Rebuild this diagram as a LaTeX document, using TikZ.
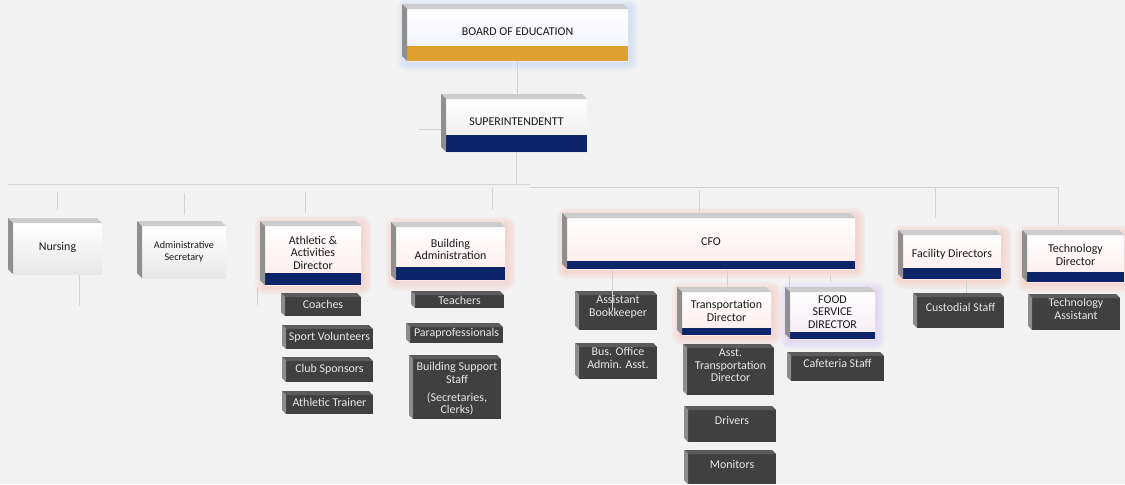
\documentclass[tikz,border=0pt]{standalone}
\usepackage{fontspec}
\setmainfont{Carlito}
\usetikzlibrary{backgrounds}

\newlength\px
\setlength\px{0.02cm}

\definecolor{pagebg}{HTML}{F2F2F2}
\definecolor{linegray}{HTML}{D2D2D2}
\definecolor{navyband}{HTML}{0E2468}
\definecolor{orangeband}{HTML}{E0A030}
\definecolor{topwhite}{HTML}{CCCCCC}
\definecolor{sidewhite}{HTML}{8F8F8F}
\definecolor{boxdark}{HTML}{404040}
\definecolor{topdark}{HTML}{5C5C5C}
\definecolor{sidedark}{HTML}{8C8C8C}
\definecolor{darktext}{HTML}{E8E8E8}
\definecolor{glowred}{HTML}{F4C2B8}
\definecolor{glowblue}{HTML}{C2D4F6}
\definecolor{glowviolet}{HTML}{D8C4F4}

% top and left faces of a raised box
\newcommand\sides[4]{%
  \fill[#3] (#1.north west) -- ++(-#2,#2) -- ([shift={(-#2,#2)}]#1.north east) -- (#1.north east) -- cycle;
  \fill[#4] (#1.north west) -- ++(-#2,#2) -- ([shift={(-#2,#2)}]#1.south west) -- (#1.south west) -- cycle;
}
% soft glow behind a box
\newcommand\glow[2]{%
  \begin{pgfonlayer}{background}
    \foreach \g in {2,4,6,8,10}
      \fill[#2, opacity=0.15, rounded corners=\g\px]
        ([shift={(-\g\px,\g\px)}]#1.north west) rectangle ([shift={(\g\px,-\g\px)}]#1.south east);
  \end{pgfonlayer}}

\tikzset{
  orgbox/.style={anchor=north west, inner sep=0.5\px, outer sep=0pt, align=center,
    text=black!90, font=\fontsize{6.8}{7.1}\selectfont},
  facebox/.style={orgbox, top color=white, bottom color=#1},
  facebox/.default=black!9,
  band/.style 2 args={path picture={\fill[#1] ([yshift=#2]path picture bounding box.south west)
    rectangle (path picture bounding box.south east);}},
  darkfacebox/.style={orgbox, fill=boxdark, text=darktext},
  lifttext/.style={execute at end node={\rule[-#1]{0pt}{#1}}},
  link/.style={draw=linegray, line width=0.5pt},
}

\begin{document}
\begin{tikzpicture}[x=0.02cm, y=0.02cm]
        \useasboundingbox (0,0) rectangle (1125,-484);
        \begin{pgfonlayer}{background}
          \fill[pagebg] (0,0) rectangle (1125,-484);
        \end{pgfonlayer}

        % top of the chart
        \node[facebox=blue!6, band={orangeband}{15\px}, lifttext=6\px, minimum width=221\px, minimum height=52\px] (boe) at (407,-9) {BOARD OF EDUCATION};
        \node[facebox, band={navyband}{17\px}, lifttext=7\px, minimum width=141\px, minimum height=53\px] (sup) at (446,-99) {SUPERINTENDENTT};

        % second row
        \node[facebox, lifttext=5\px, minimum width=89\px, minimum height=51\px] (nurs) at (13,-223) {Nursing};
        \node[facebox, font=\fontsize{5.8}{6.8}\selectfont, minimum width=84\px, minimum height=52\px] (adms) at (142,-226) {Administrative\\Secretary};
        \node[facebox=red!8, band={navyband}{12\px}, lifttext=6\px, minimum width=96\px, minimum height=59\px] (athl) at (265,-226) {Athletic \&\\Activities\\Director};
        \node[facebox=red!8, band={navyband}{13\px}, lifttext=8\px, minimum width=109\px, minimum height=53\px] (bldg) at (396,-227) {Building\\Administration};
        \node[facebox=red!8, band={navyband}{8\px}, lifttext=3\px, minimum width=288\px, minimum height=51\px] (cfo) at (567,-218) {CFO};
        \node[facebox=red!8, band={navyband}{11\px}, lifttext=7\px, minimum width=98\px, minimum height=44\px] (facd) at (903,-235) {Facility Directors};
        \node[facebox=red!8, band={navyband}{10\px}, lifttext=7\px, minimum width=97\px, minimum height=47\px] (tech) at (1027,-235) {Technology\\Director};

        % under the CFO
        \node[facebox=red!8, band={navyband}{7\px}, lifttext=5\px, minimum width=89\px, minimum height=43\px] (trdir) at (682,-292) {Transportation\\Director};
        \node[facebox=violet!8, band={navyband}{7\px}, lifttext=7\px, minimum width=85\px, minimum height=47\px] (food) at (790,-292) {FOOD\\SERVICE\\DIRECTOR};

        % staff boxes
        \node[darkfacebox, lifttext=4\px, minimum width=76\px, minimum height=19\px] (coach) at (285,-297) {Coaches};
        \node[darkfacebox, lifttext=5\px, minimum width=87\px, minimum height=20\px] (spvol) at (286,-329) {Sport Volunteers};
        \node[darkfacebox, lifttext=7\px, minimum width=87\px, minimum height=21\px] (club) at (286,-361) {Club Sponsors};
        \node[darkfacebox, lifttext=5\px, minimum width=87\px, minimum height=19\px] (atrn) at (286,-395) {Athletic Trainer};
        \node[darkfacebox, lifttext=3\px, minimum width=89\px, minimum height=13\px] (teach) at (415,-295) {Teachers};
        \node[darkfacebox, lifttext=5\px, minimum width=93\px, minimum height=16\px] (para) at (410,-327) {Paraprofessionals};
        \node[darkfacebox, minimum width=88\px, minimum height=60\px] (bss) at (413,-359) {Building Support\\Staff\\[3pt](Secretaries,\\Clerks)};
        \node[darkfacebox, lifttext=13\px, minimum width=78\px, minimum height=32\px] (abook) at (579,-295) {Assistant\\Bookkeeper};
        \node[darkfacebox, lifttext=10\px, minimum width=78\px, minimum height=31\px] (boffice) at (579,-347) {Bus. Office\\Admin. Asst.};
        \node[darkfacebox, lifttext=12\px, minimum width=87\px, minimum height=47\px] (atd) at (687,-348) {Asst.\\Transportation\\Director};
        \node[darkfacebox, lifttext=12\px, minimum width=88\px, minimum height=32\px] (drv) at (688,-410) {Drivers};
        \node[darkfacebox, lifttext=10\px, minimum width=88\px, minimum height=30\px] (mon) at (688,-454) {Monitors};
        \node[darkfacebox, lifttext=11\px, minimum width=93\px, minimum height=25\px] (caf) at (791,-356) {Cafeteria Staff};
        \node[darkfacebox, lifttext=11\px, minimum width=87\px, minimum height=31\px] (cust) at (917,-297) {Custodial Staff};
        \node[darkfacebox, lifttext=10\px, minimum width=88\px, minimum height=32\px] (tasst) at (1032,-298) {Technology\\Assistant};

        % raised edges and glows
        \foreach \n in {boe,sup,nurs,adms,athl,bldg,cfo,facd,tech,trdir,food}
          {\sides{\n}{5\px}{topwhite}{sidewhite}}
        \foreach \n in {coach,spvol,club,atrn,teach,para,bss,abook,boffice,atd,drv,mon,caf,cust,tasst}
          {\sides{\n}{4\px}{topdark}{sidedark}}
        \glow{boe}{glowblue}
        \glow{food}{glowviolet}
        \foreach \n in {athl,bldg,cfo,trdir,facd,tech}
          {\glow{\n}{glowred}}

        % connecting lines
        \coordinate (busA) at (8,-184);
        \coordinate (busB) at (530,-184);
        \coordinate (busC) at (530,-187);
        \coordinate (busD) at (1058,-187);
        \draw[link, shorten >=5\px] (boe.south) -- (boe.south |- sup.north);
        \draw[link] (sup.south) -- (sup.south |- busA);
        \draw[link] ([xshift=-5\px,yshift=-4\px]sup.west) -- ([xshift=-27\px,yshift=-4\px]sup.west);
        \draw[link] (busA) -- (busB);
        \draw[link] (busC) -- (busD);

        \draw[link] ([yshift=31\px]nurs.north) -- ([yshift=13\px]nurs.north);
        \draw[link] ([yshift=33\px]adms.north) -- ([yshift=11\px]adms.north);
        \draw[link] ([xshift=-8\px,yshift=34\px]athl.north) -- ([xshift=-8\px,yshift=13\px]athl.north);
        \draw[link] ([xshift=42\px,yshift=39\px]bldg.north) -- ([xshift=42\px,yshift=17\px]bldg.north);
        \draw[link] ([xshift=-12\px,yshift=28\px]cfo.north) -- ([xshift=-12\px,yshift=5\px]cfo.north);
        \draw[link] ([xshift=-17\px,yshift=48\px]facd.north) -- ([xshift=-17\px,yshift=17\px]facd.north);
        \draw[link] ([xshift=-17\px,yshift=48\px]tech.north) -- ([xshift=-17\px,yshift=10\px]tech.north);

        \draw[link] ([xshift=22\px,yshift=-1\px]nurs.south) -- ([xshift=22\px,yshift=-32\px]nurs.south);
        \draw[link] ([xshift=-8\px,yshift=-2\px]athl.south west) -- ([xshift=-8\px,yshift=-20\px]athl.south west);
        \draw[link] ([xshift=-6\px,yshift=26\px]abook.north) -- ([xshift=-6\px,yshift=-15\px]abook.north);
        \draw[link] ([xshift=1\px,yshift=22\px]trdir.north) -- ([xshift=1\px,yshift=2\px]trdir.north);
        \draw[link] ([xshift=-1\px,yshift=17\px]food.north west) -- ([xshift=-1\px,yshift=5\px]food.north west);
        \draw[link] ([xshift=-2\px,yshift=17\px]food.north) -- ([xshift=-2\px,yshift=10\px]food.north);
        \draw[link] ([xshift=6\px,yshift=17\px]cust.north) -- ([xshift=6\px,yshift=4\px]cust.north);
\end{tikzpicture}
\end{document}
